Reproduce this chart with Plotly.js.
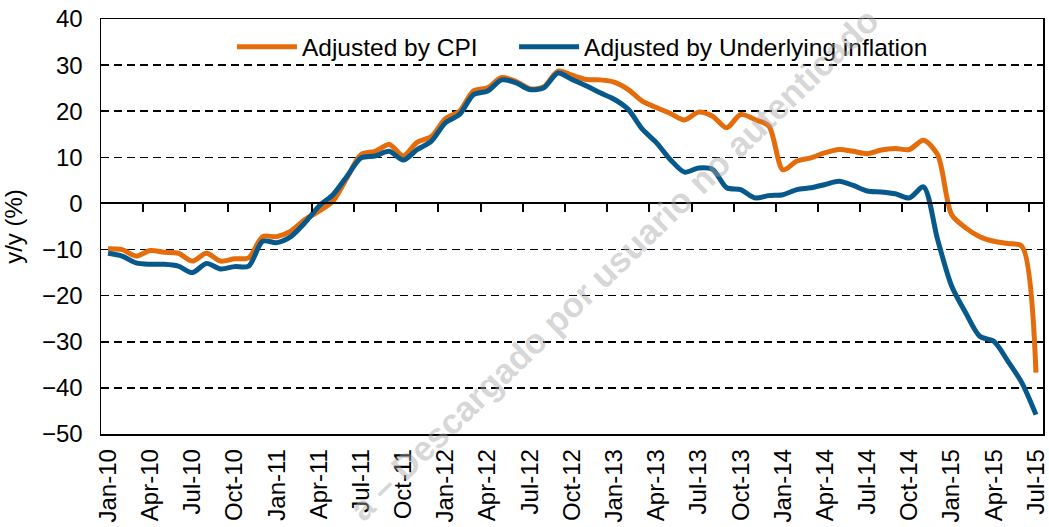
<!DOCTYPE html>
<html>
<head>
<meta charset="utf-8">
<script src="https://cdn.plot.ly/plotly-3.0.1.min.js"></script>
<style>
  html, body { margin: 0; padding: 0; background: #ffffff; }
  #chart { width: 1049px; height: 527px; }
</style>
</head>
<body>
<div id="chart"></div>
<script>
// ---- Data ----
const months = [
  "Jan-10","Feb-10","Mar-10","Apr-10","May-10","Jun-10","Jul-10","Aug-10","Sep-10","Oct-10","Nov-10","Dec-10",
  "Jan-11","Feb-11","Mar-11","Apr-11","May-11","Jun-11","Jul-11","Aug-11","Sep-11","Oct-11","Nov-11","Dec-11",
  "Jan-12","Feb-12","Mar-12","Apr-12","May-12","Jun-12","Jul-12","Aug-12","Sep-12","Oct-12","Nov-12","Dec-12",
  "Jan-13","Feb-13","Mar-13","Apr-13","May-13","Jun-13","Jul-13","Aug-13","Sep-13","Oct-13","Nov-13","Dec-13",
  "Jan-14","Feb-14","Mar-14","Apr-14","May-14","Jun-14","Jul-14","Aug-14","Sep-14","Oct-14","Nov-14","Dec-14",
  "Jan-15","Feb-15","Mar-15","Apr-15","May-15","Jun-15","Jul-15"
];

const adjustedByCPI = [
  -9.8, -10.0, -11.4, -10.2, -10.6, -10.8, -12.5, -10.8, -12.5, -12.0, -11.8, -7.2,
  -7.2, -6.0, -3.5, -1.7, 0.5, 5.6, 10.6, 11.3, 12.8, 10.3, 13.3, 14.5,
  18.4, 20.0, 24.4, 25.1, 27.3, 26.5, 24.9, 25.3, 28.7, 27.8, 26.9, 26.8,
  26.3, 24.7, 22.2, 20.8, 19.5, 18.1, 19.8, 18.9, 16.4, 19.3, 18.2, 16.8,
  7.3, 9.2, 9.9, 11.0, 11.7, 11.3, 10.8, 11.6, 11.9, 11.7, 13.7, 10.6,
  -2.4, -5.3, -7.2, -8.2, -8.7, -9.3, -36.7
];

const adjustedByUnderlying = [
  -10.8, -11.4, -12.9, -13.2, -13.2, -13.6, -15.0, -13.0, -14.2, -13.7, -13.6, -8.2,
  -8.5, -7.2, -4.2, -0.6, 1.9, 5.9, 9.9, 10.3, 11.3, 9.4, 11.7, 13.5,
  17.5, 19.3, 23.6, 24.4, 26.8, 26.2, 24.7, 25.1, 28.3, 26.9, 25.5, 24.0,
  22.6, 20.4, 16.1, 13.2, 9.5, 6.8, 7.7, 7.4, 3.4, 3.0, 1.2, 1.7,
  1.9, 3.0, 3.4, 4.1, 4.8, 3.9, 2.7, 2.5, 2.1, 1.2, 3.6, -7.8,
  -17.9, -23.7, -28.8, -29.9, -34.2, -38.9, -45.8
];

const tickLabels = [
  "Jan-10","Apr-10","Jul-10","Oct-10","Jan-11","Apr-11","Jul-11","Oct-11",
  "Jan-12","Apr-12","Jul-12","Oct-12","Jan-13","Apr-13","Jul-13","Oct-13",
  "Jan-14","Apr-14","Jul-14","Oct-14","Jan-15","Apr-15","Jul-15"
];

const seriesNames = ["Adjusted by CPI", "Adjusted by Underlying inflation"];
const yTitle = "y/y (%)";
const watermark = "a \u2013 Descargado por usuario no autenticado";

// ---- Derived positions (category index axis) ----
const xIdx = months.map((m, i) => i);
const labelVals = tickLabels.map(t => months.indexOf(t));
// tick marks sit between categories, every 3 months (Excel style)
const betweenTicks = labelVals.slice(0, -1).map(v => v + 2.5);
const yMin = -50, yMax = 40;
const xRange = [-0.5, months.length - 0.5];

const FONT = "Liberation Sans, Arial, sans-serif";

const traces = [
  {
    x: xIdx, y: adjustedByCPI, name: seriesNames[0], type: "scatter", mode: "lines",
    line: { color: "#E46C0A", width: 5, shape: "spline", smoothing: 0.8 },
    hoverinfo: "skip", legend: "legend"
  },
  {
    x: xIdx, y: adjustedByUnderlying, name: seriesNames[1], type: "scatter", mode: "lines",
    line: { color: "#07598C", width: 5, shape: "spline", smoothing: 0.8 },
    hoverinfo: "skip", legend: "legend2"
  },
  // invisible trace to activate the zero-crossing tick axis
  {
    x: [xRange[0]], y: [0], xaxis: "x2", type: "scatter", mode: "markers",
    marker: { opacity: 0 }, showlegend: false, hoverinfo: "skip"
  }
];

const legendCommon = {
  orientation: "h", xanchor: "left", y: 0.933, yanchor: "middle",
  font: { family: FONT, size: 24.5, color: "#000000" },
  bgcolor: "rgba(0,0,0,0)", itemwidth: 60
};

const layout = {
  width: 1049, height: 527,
  margin: { l: 100.5, r: 5.5, t: 19, b: 93, pad: 0 },
  paper_bgcolor: "#ffffff", plot_bgcolor: "#ffffff",
  font: { family: FONT, size: 24, color: "#000000" },
  showlegend: true,
  legend: Object.assign({}, legendCommon, { x: 0.139 }),
  legend2: Object.assign({}, legendCommon, { x: 0.4385 }),
  xaxis: {
    range: xRange, tickmode: "array", tickvals: labelVals, ticktext: tickLabels,
    tickangle: -90, ticks: "", showgrid: false, zeroline: false,
    showline: true, mirror: true, linecolor: "#000000", linewidth: 1.5,
    tickfont: { family: FONT, size: 24 }, ticklabelstandoff: 4
  },
  xaxis2: {
    overlaying: "x", anchor: "free", position: (0 - yMin) / (yMax - yMin), side: "bottom",
    range: xRange, tickmode: "array", tickvals: betweenTicks, showticklabels: false,
    ticks: "outside", ticklen: 8, tickwidth: 2, tickcolor: "#000000",
    showgrid: false, zeroline: false, showline: true, linecolor: "#000000", linewidth: 2
  },
  yaxis: {
    range: [yMin, yMax], dtick: 10, tick0: 0, ticks: "",
    showgrid: true, gridcolor: "#000000", gridwidth: 1.5, griddash: "8px,5px",
    zeroline: false, showline: true, mirror: true, linecolor: "#000000", linewidth: 1.5,
    tickfont: { family: FONT, size: 24 }, ticklabelstandoff: 12,
    title: { text: yTitle, font: { family: FONT, size: 24 }, standoff: 16 }
  },
  annotations: [
    {
      text: watermark, xref: "paper", yref: "paper", x: 0.545, y: 0.41,
      showarrow: false, textangle: -44,
      font: { family: FONT, size: 35, color: "rgba(165,165,165,0.45)", weight: "bold" }
    }
  ]
};

Plotly.newPlot("chart", traces, layout, { staticPlot: true, displayModeBar: false });
</script>
</body>
</html>
